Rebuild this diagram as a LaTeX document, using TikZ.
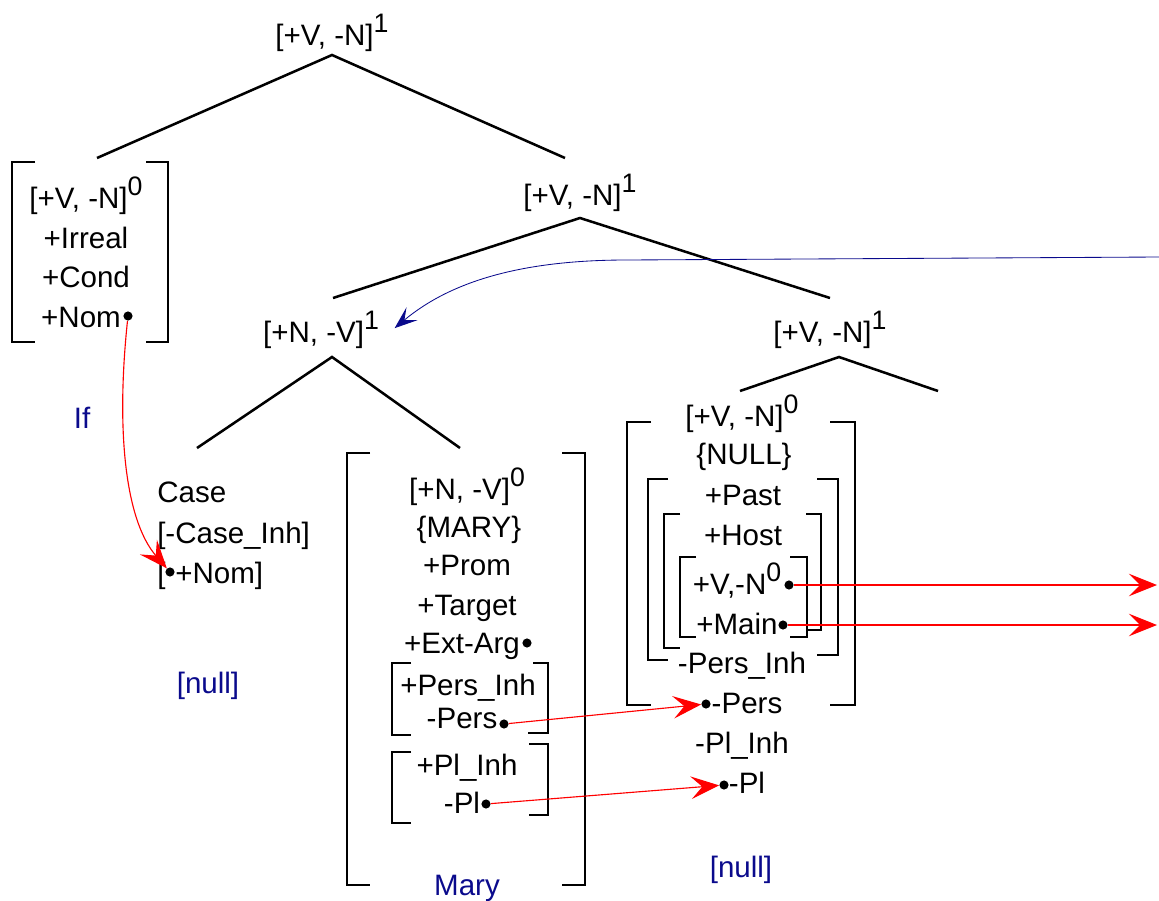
\documentclass[tikz,border=0pt]{standalone}
\usepackage{fontspec}
\setmainfont{Liberation Sans}
\usepackage{tikz}
\usetikzlibrary{positioning}
\usetikzlibrary{arrows.meta}

\definecolor{navy}{RGB}{10,10,140}
\newcommand{\lvl}[1]{\raisebox{9pt}{\fontsize{19}{19}\selectfont #1}}

\begin{document}
\begin{tikzpicture}[x=0.025cm, y=-0.025cm,
    every node/.style={font=\fontsize{21}{25}\selectfont},
    feat/.style={anchor=base, inner sep=0pt},
    featl/.style={anchor=base west, inner sep=0pt},
    gloss/.style={anchor=base, inner sep=0pt, text=navy},
    branch/.style={line width=1.8pt},
    brk/.style={line width=1.8pt},
    dot/.style={circle, fill=black, inner sep=0pt, minimum size=6.5pt},
    link/.style={red, line width=0.8pt, -{Stealth[length=20pt, width=16pt, inset=8pt]}},
    move/.style={navy, line width=0.6pt, -{Stealth[length=16pt, width=12pt, inset=7pt]}}]
    \useasboundingbox (0,0) rectangle (1159,901);

    % tree labels
    \node[feat] (vp) at (332,45) {[+V, -N]\lvl{1}};
    \node[feat] (vbar) at (580,205) {[+V, -N]\lvl{1}};
    \node[feat] (np) at (321,342) {[+N, -V]\lvl{1}};
    \node[feat] (vbar2) at (830,342) {[+V, -N]\lvl{1}};

    \coordinate (vp-a) at (332,55);
    \coordinate (vp-l) at (97,158);
    \coordinate (vp-r) at (565,158);
    \coordinate (vbar-a) at (580,218);
    \coordinate (vbar-l) at (333,298);
    \coordinate (vbar-r) at (830,298);
    \coordinate (np-a) at (332,357);
    \coordinate (np-l) at (197,448);
    \coordinate (np-r) at (460,448);
    \coordinate (vbar2-a) at (839,357);
    \coordinate (vbar2-l) at (740,391);
    \coordinate (vbar2-r) at (938,391);

    \draw[branch] (vp-l) -- (vp-a) -- (vp-r);
    \draw[branch] (vbar-l) -- (vbar-a) -- (vbar-r);
    \draw[branch] (np-l) -- (np-a) -- (np-r);
    \draw[branch] (vbar2-l) -- (vbar2-a) -- (vbar2-r);

    % if
    \draw[brk] (35,162) -| (12,342) -- (35,342);
    \draw[brk] (146,162) -| (168,342) -- (146,342);
    \node[feat] (c0) at (86,208) {[+V, -N]\lvl{0}};
    \node[feat] (irr) at (86,248) {+Irreal};
    \node[feat] (cond) at (86,287) {+Cond};
    \node[feat] (nom) at (81,327) {+Nom};
    \node[dot] (nom-d) at (128,316) {};
    \node[gloss] (if) at (82,428) {If};

    % case
    \node[featl] (case) at (157,502) {Case};
    \node[featl] (cinh) at (157,543) {[-Case\_Inh]};
    \node[featl] (cnom) at (157,583) {[\hspace{7pt}+Nom]};
    \node[dot] (cnom-d) at (170,572) {};
    \node[gloss] (null1) at (208,693) {[null]};

    % mary
    \draw[brk] (370,453) -| (347,885) -- (370,885);
    \draw[brk] (562,453) -| (585,885) -- (562,885);
    \draw[brk] (411,663) -| (392,735) -- (411,735);
    \draw[brk] (533,663) -| (548,733) -- (528,733);
    \draw[brk] (411,752) -| (392,823) -- (411,823);
    \draw[brk] (529,744) -| (548,815) -- (529,815);
    \node[feat] (n0) at (467,499) {[+N, -V]\lvl{0}};
    \node[feat] (mary) at (469,537) {\{MARY\}};
    \node[feat] (prom) at (467,575) {+Prom};
    \node[feat] (targ) at (467,615) {+Target};
    \node[feat] (ext) at (462,653) {+Ext-Arg};
    \node[dot] (ext-d) at (527,643) {};
    \node[feat] (pinh) at (468,695) {+Pers\_Inh};
    \node[feat] (pers) at (462,728) {-Pers};
    \node[dot] (pers-d) at (504,724) {};
    \node[feat] (plinh) at (467,775) {+Pl\_Inh};
    \node[feat] (pl) at (462,813) {-Pl};
    \node[dot] (pl-d) at (486,804) {};
    \node[gloss] (mary-g) at (467,895) {Mary};

    % null verb
    \draw[brk] (651,422) -| (627,705) -- (651,705);
    \draw[brk] (830,422) -| (855,705) -- (830,705);
    \draw[brk] (668,479) -| (648,660) -- (668,660);
    \draw[brk] (817,479) -| (838,655) -- (817,655);
    \draw[brk] (680,514) -| (664,648) -- (680,648);
    \draw[brk] (806,514) -| (821,630) -- (806,630);
    \draw[brk] (696,557) -| (680,637) -- (696,637);
    \draw[brk] (790,557) -| (807,637) -- (790,637);
    \node[feat] (v0) at (742,426) {[+V, -N]\lvl{0}};
    \node[feat] (nul) at (744,464) {\{NULL\}};
    \node[feat] (past) at (743,505) {+Past};
    \node[feat] (host) at (743,545) {+Host};
    \node[feat] (vn0) at (737,594) {+V,-N\lvl{0}};
    \node[dot] (vn0-d) at (789,585) {};
    \node[feat] (main) at (737,634) {+Main};
    \node[dot] (main-d) at (783,625) {};
    \node[feat] (npinh) at (742,673) {-Pers\_Inh};
    \node[feat] (npers) at (747,713) {-Pers};
    \node[dot] (npers-d) at (706,704) {};
    \node[feat] (nplinh) at (742,753) {-Pl\_Inh};
    \node[feat] (npl) at (747,793) {-Pl};
    \node[dot] (npl-d) at (724,785) {};
    \node[gloss] (null2) at (741,877) {[null]};

    % links
    \coordinate (vn0-out) at (1157,585);
    \coordinate (main-out) at (1157,625);
    \draw[link] (nom-d) .. controls (116,430) and (125,520) .. (cnom-d);
    \draw[link] (pers-d) -- (npers-d);
    \draw[link] (pl-d) -- (npl-d);
    \draw[link] (vn0-d) -- (vn0-out);
    \draw[link] (main-d) -- (main-out);

    % moved subject
    \coordinate (move-in) at (1159,257);
    \coordinate (move-bend) at (627,260);
    \draw[move] (move-in) -- (move-bend) .. controls (520,260) and (450,282) .. ([xshift=11pt,yshift=1pt]np.east);
\end{tikzpicture}
\end{document}
